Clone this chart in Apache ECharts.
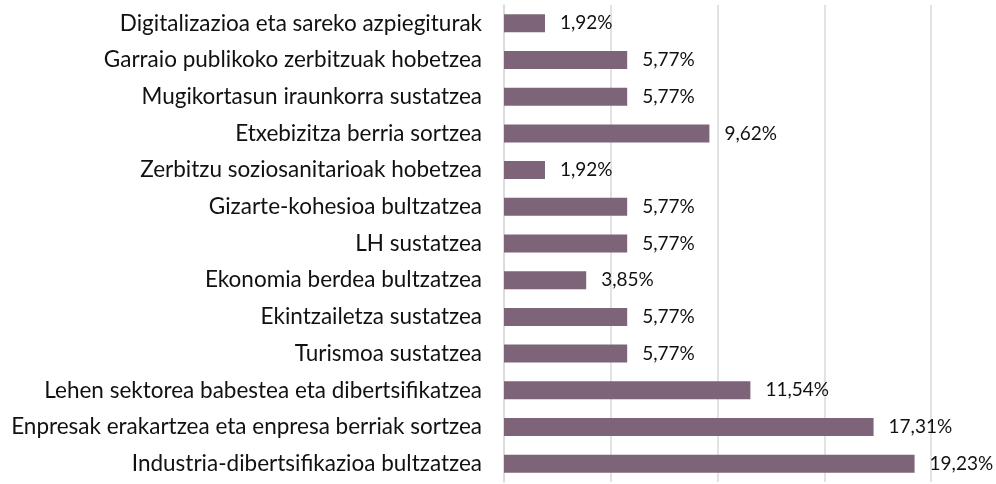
<!DOCTYPE html>
<html>
<head>
<meta charset="utf-8">
<script src="https://cdn.jsdelivr.net/npm/echarts@6/dist/echarts.min.js"></script>
<style>
  html, body { margin: 0; padding: 0; background: #fff; }
  #chart { width: 996px; height: 484px; }
</style>
</head>
<body>
<div id="chart"></div>
<script>
// categories, top to bottom as in the picture
const categories = [
  "Digitalizazioa eta sareko azpiegiturak",
  "Garraio publikoko zerbitzuak hobetzea",
  "Mugikortasun iraunkorra sustatzea",
  "Etxebizitza berria sortzea",
  "Zerbitzu soziosanitarioak hobetzea",
  "Gizarte-kohesioa bultzatzea",
  "LH sustatzea",
  "Ekonomia berdea bultzatzea",
  "Ekintzailetza sustatzea",
  "Turismoa sustatzea",
  "Lehen sektorea babestea eta dibertsifikatzea",
  "Enpresak erakartzea eta enpresa berriak sortzea",
  "Industria-dibertsifikazioa bultzatzea"
];
const values = [1.92, 5.77, 5.77, 9.62, 1.92, 5.77, 5.77, 3.85, 5.77, 5.77, 11.54, 17.31, 19.23];

const myChart = echarts.init(document.getElementById("chart"));
const option = {
  animation: false,
  grid: {
    left: 504,
    right: 65,
    top: 5,
    bottom: 2,
    containLabel: false
  },
  xAxis: {
    type: "value",
    min: 0,
    max: 20,
    interval: 5,
    axisLabel: { show: false },
    axisLine: { show: false },
    axisTick: { show: false },
    splitLine: {
      show: true,
      lineStyle: { color: "#d9d9d9", width: 1.5 }
    }
  },
  yAxis: {
    type: "category",
    inverse: true,
    data: categories,
    axisLine: {
      show: true,
      lineStyle: { color: "#d9d9d9", width: 1.5 }
    },
    axisTick: { show: false },
    axisLabel: {
      margin: 22,
      color: "#111",
      fontFamily: "Lato",
      fontSize: 22.5
    }
  },
  series: [
    {
      type: "bar",
      data: values,
      barWidth: 18,
      itemStyle: { color: "#7d6478" },
      label: {
        show: true,
        position: "right",
        distance: 15,
        color: "#111",
        fontFamily: "Lato",
        fontSize: 19,
        formatter: p => p.value.toFixed(2).replace(".", ",") + "%"
      }
    }
  ]
};
myChart.setOption(option);
</script>
</body>
</html>
